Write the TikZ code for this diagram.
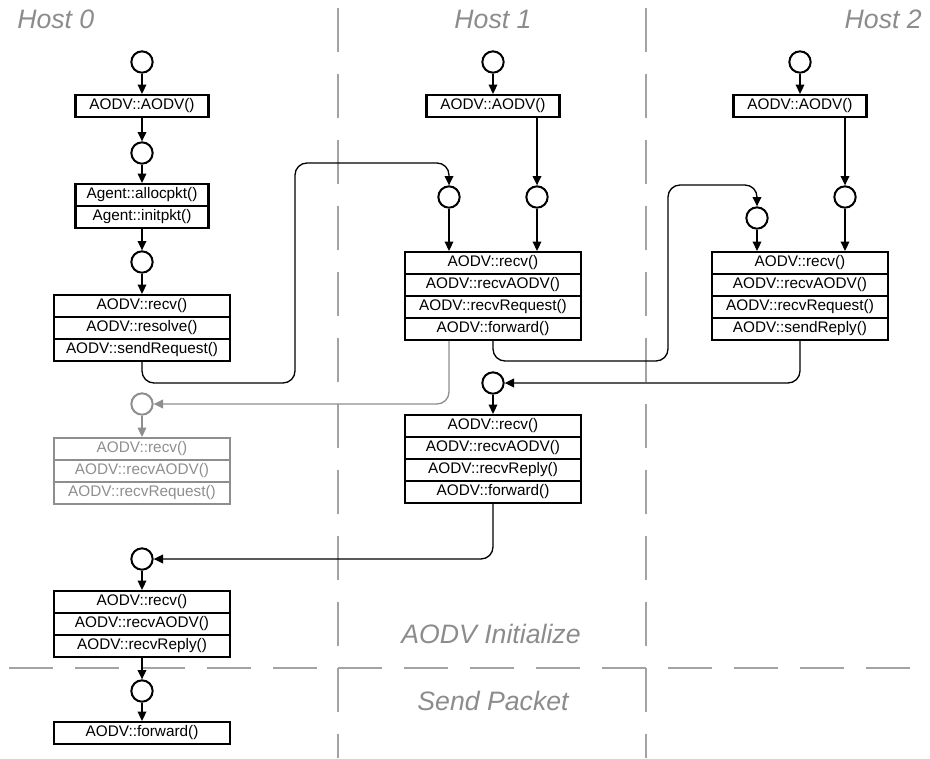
\documentclass[tikz,border=0pt]{standalone}
\usepackage{fontspec}
\setmainfont{Liberation Sans}
\usetikzlibrary{arrows.meta}
\definecolor{lanegray}{HTML}{A3A3A3}
\definecolor{labelgray}{HTML}{8C8C8C}
\definecolor{fadegray}{HTML}{8E8E8E}

\begin{document}
\begin{tikzpicture}[x=0.75pt,y=-0.75pt,
    callbox/.style={draw,line width=1.6pt,minimum height=16.5pt,inner sep=0pt,font=\fontsize{11.5}{13}\selectfont},
    narrowbox/.style={callbox,minimum width=99.75pt},
    widebox/.style={callbox,minimum width=132pt},
    hook/.style={circle,draw,line width=1.5pt,minimum size=16pt,inner sep=0pt},
    link/.style={line width=1pt,-{Triangle[length=7pt,width=6.5pt]}},
    faded/.style={draw=fadegray,text=fadegray},
    lane/.style={lanegray,line width=1.5pt,dash pattern=on 33pt off 16.5pt},
    lanelabel/.style={text=labelgray,font=\fontsize{20}{23}\selectfont\itshape,inner sep=0pt}]
    \useasboundingbox (0,0) rectangle (930,758);
    % lanes
    \draw[lane](338,8)--(338,646);
    \draw[lane](646,8)--(646,646);
    \draw[lane](9,668)--(317,668);
    \draw[lane](668,668)--(911,668);
    \draw[lane](338,668)--(646,668);
    \draw[lane](338,668)--(338,758);
    \draw[lane](646,668)--(646,758);
    \node[lanelabel,anchor=base west] (host0) at (17,28) {Host 0};
    \node[lanelabel,anchor=base] (host1) at (493,28) {Host 1};
    \node[lanelabel,anchor=base east] (host2) at (922,28) {Host 2};
    \node[lanelabel,anchor=base] (init) at (491,643) {AODV Initialize};
    \node[lanelabel,anchor=base] (send) at (493,710) {Send Packet};
    % host 0
    \node[hook] (c01) at (142,62) {};
    \node[narrowbox] (b01) at (142,106) {AODV::AODV()};
    \node[hook] (c02) at (142,153) {};
    \node[narrowbox] (b02a) at (142,195) {Agent::allocpkt()};
    \node[narrowbox] (b02b) at (142,217) {Agent::initpkt()};
    \node[hook] (c03) at (142,262) {};
    \node[widebox] (b03a) at (142,306) {AODV::recv()};
    \node[widebox] (b03b) at (142,328) {AODV::resolve()};
    \node[widebox] (b03c) at (142,350) {AODV::sendRequest()};
    \node[hook,faded] (c04) at (142,404) {};
    \node[widebox,faded] (b04a) at (142,449) {AODV::recv()};
    \node[widebox,faded] (b04b) at (142,471) {AODV::recvAODV()};
    \node[widebox,faded] (b04c) at (142,493) {AODV::recvRequest()};
    \node[hook] (c05) at (142,559) {};
    \node[widebox] (b05a) at (142,602) {AODV::recv()};
    \node[widebox] (b05b) at (142,624) {AODV::recvAODV()};
    \node[widebox] (b05c) at (142,646) {AODV::recvReply()};
    \node[hook] (c06) at (142,691) {};
    \node[widebox] (b06) at (142,733) {AODV::forward()};
    % host 1
    \node[hook] (c10) at (493,62) {};
    \node[narrowbox] (b10) at (493,106) {AODV::AODV()};
    \node[hook] (c11) at (449,197) {};
    \node[hook] (c12) at (537,197) {};
    \node[widebox] (b11a) at (493,263) {AODV::recv()};
    \node[widebox] (b11b) at (493,285) {AODV::recvAODV()};
    \node[widebox] (b11c) at (493,307) {AODV::recvRequest()};
    \node[widebox] (b11d) at (493,329) {AODV::forward()};
    \node[hook] (c13) at (493,383) {};
    \node[widebox] (b12a) at (493,426) {AODV::recv()};
    \node[widebox] (b12b) at (493,448) {AODV::recvAODV()};
    \node[widebox] (b12c) at (493,470) {AODV::recvReply()};
    \node[widebox] (b12d) at (493,492) {AODV::forward()};
    % host 2
    \node[hook] (c20) at (800,62) {};
    \node[narrowbox] (b20) at (800,106) {AODV::AODV()};
    \node[hook] (c21) at (757,218) {};
    \node[hook] (c22) at (845,197) {};
    \node[widebox] (b21a) at (800,263) {AODV::recv()};
    \node[widebox] (b21b) at (800,285) {AODV::recvAODV()};
    \node[widebox] (b21c) at (800,307) {AODV::recvRequest()};
    \node[widebox] (b21d) at (800,329) {AODV::sendReply()};
    % calls
    \draw[link](c01)--(b01);
    \draw[link](b01)--(c02);
    \draw[link](c02)--(b02a);
    \draw[link](b02b)--(c03);
    \draw[link](c03)--(b03a);
    \draw[link,fadegray](c04)--(b04a);
    \draw[link](c05)--(b05a);
    \draw[link](b05c)--(c06);
    \draw[link](c06)--(b06);
    \draw[link](c10)--(b10);
    \draw[link](b10.south -| c12)--(c12);
    \draw[link](c11)--(b11a.north -| c11);
    \draw[link](c12)--(b11a.north -| c12);
    \draw[link](c13)--(b12a);
    \draw[link](c20)--(b20);
    \draw[link](b20.south -| c22)--(c22);
    \draw[link](c21)--(b21a.north -| c21);
    \draw[link](c22)--(b21a.north -| c22);
    % messages
    \draw[link,rounded corners=9pt](b03c.south) |- (295,383) |- (449,163) -- (c11.north);
    \draw[link,rounded corners=9pt](b11d.south) |- (668,361) |- (757,185) -- (c21.north);
    \draw[link,fadegray,rounded corners=9pt](b11d.south -| c11) |- (c04.east);
    \draw[link,rounded corners=9pt](b21d.south) |- (c13.east);
    \draw[link,rounded corners=9pt](b12d.south) |- (c05.east);
\end{tikzpicture}
\end{document}
